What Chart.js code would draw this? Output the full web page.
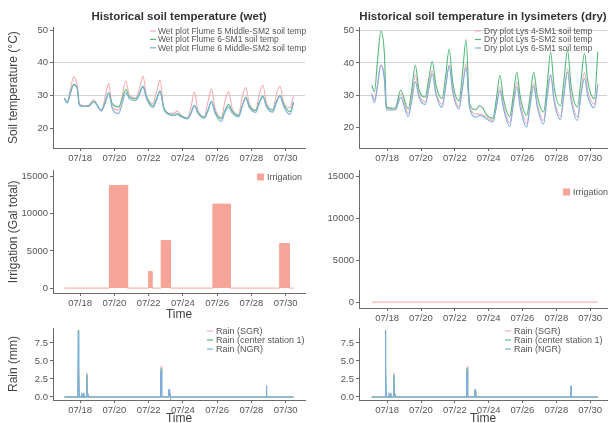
<!DOCTYPE html>
<html>
<head>
<meta charset="utf-8">
<script src="https://cdn.jsdelivr.net/npm/chart.js@4.4.1/dist/chart.umd.min.js"></script>
<style>
  html, body { margin:0; padding:0; background:#ffffff; }
  body { position:relative; width:611px; height:423px; overflow:hidden; }
  canvas { position:absolute; }
</style>
</head>
<body>
<canvas id="tl"></canvas>
<canvas id="tr"></canvas>
<canvas id="ml"></canvas>
<canvas id="mr"></canvas>
<canvas id="bl"></canvas>
<canvas id="br"></canvas>
<script>
// ---------------- data ----------------
// time axis: hours since 07/17 00:00
const tickHours  = [24, 72, 120, 168, 216, 264, 312];
const tickLabels = ['07/18','07/20','07/22','07/24','07/26','07/28','07/30'];

const tempHours = [2,6,10,15,20,23, 30,36,43,
  54,59,64,69, 78,83,88,93, 102,107,112,117, 126,131,136,141,
  150,155,160,165, 174,179,184,189, 198,203,208,213, 222,227,232,237,
  246,251,256,261, 270,275,280,285, 294,299,304,309, 318,323];

const wetFlume5Middle = [29.2,28.0,31.5,35.6,33.0,27.5, 26.8,27.0,28.7,
  25.2,29.5,33.7,26.5, 25.5,30.0,34.4,30.0, 29.2,32.0,35.9,30.0, 27.5,31.0,34.7,26.5,
  24.5,24.5,25.2,24.0, 23.0,26.0,31.0,25.5, 23.5,28.0,32.0,26.0, 23.2,28.5,31.1,26.0,
  24.2,29.5,32.4,27.5, 25.5,30.5,33.1,27.8, 25.6,30.5,32.8,28.0, 26.2,30.0];
const wetFlume6SM1 = [29.1,27.8,30.5,33.4,32.1,27.0, 26.7,26.8,28.2,
  25.5,28.0,30.8,27.5, 26.5,29.0,31.8,29.5, 29.0,30.5,32.9,29.5, 26.8,29.0,31.4,26.5,
  24.2,24.0,24.4,23.8, 23.0,24.5,27.0,24.8, 23.3,25.5,28.2,25.0, 22.8,25.5,27.2,25.2,
  23.8,26.8,29.4,26.8, 25.3,28.0,29.8,27.0, 25.5,28.2,30.0,27.3, 25.0,28.0];
const wetFlume6Middle = [29.0,27.7,30.3,33.2,32.0,26.9, 26.6,26.7,28.0,
  25.3,27.6,30.6,26.0, 24.5,27.5,30.8,29.0, 28.5,30.2,32.7,29.0, 26.3,28.5,31.2,26.0,
  24.0,23.8,24.2,23.5, 22.8,24.3,26.8,24.5, 23.0,25.2,28.0,24.5, 22.0,25.0,26.4,24.6,
  23.4,26.5,29.2,26.3, 24.8,27.6,29.6,26.5, 24.9,27.8,29.8,26.7, 24.2,27.8];

const dryLys4SM1 = [30.7,28.6,33.0,39.4,35.5,26.0, 25.8,26.0,30.5,
  24.5,30.0,36.3,30.5, 28.0,33.0,37.6,31.5, 27.2,33.0,39.4,32.0, 26.5,33.0,39.8,26.5,
  24.3,24.2,24.0,23.2, 22.3,27.0,32.6,27.0, 21.5,28.0,34.0,27.5, 21.3,28.0,33.8,27.5,
  22.3,30.0,36.5,29.0, 23.6,31.0,38.3,30.0, 23.3,31.0,37.0,31.0, 27.3,33.8];
const dryLys5SM2 = [33.2,31.1,40.0,49.7,43.0,26.5, 26.0,26.3,31.6,
  25.8,32.0,39.3,32.0, 29.5,35.0,40.5,33.5, 29.0,36.0,44.3,34.0, 28.3,37.0,47.2,27.3,
  25.6,26.8,26.0,24.0, 23.0,29.0,36.2,29.0, 23.5,30.0,37.2,29.5, 23.9,30.0,37.2,30.0,
  24.9,33.0,43.3,32.5, 26.8,35.0,44.0,33.0, 26.4,34.5,43.0,34.0, 29.0,43.5];
const dryLys6SM1 = [30.2,27.8,32.5,39.2,35.0,25.6, 25.5,25.6,29.3,
  23.5,28.5,34.3,29.5, 27.2,32.0,36.6,30.5, 26.3,32.5,39.0,31.0, 25.8,32.5,38.6,26.2,
  23.3,23.8,23.5,22.7, 21.8,26.5,31.6,26.0, 20.4,27.0,32.6,26.0, 20.2,27.0,32.8,26.5,
  21.2,29.5,36.3,28.0, 22.6,30.5,37.2,28.5, 22.3,30.0,35.3,29.5, 26.2,33.2];

// irrigation events (wet plot)
const irrStartHours = [65, 120, 137.5, 210, 303.5];
const irrEndHours   = [90.5, 124.5, 150.5, 234.5, 317];
const irrGallons    = [13800, 2250, 6400, 11300, 6000];
const irrSpanHours  = [2, 323];
// dry plot: no irrigation events
const dryIrrStartHours = [];
const dryIrrEndHours   = [];
const dryIrrGallons    = [];

// rain
const rainHours = [2,21,21.5,22,22.5,23, 26,26.5,27, 28.5,29,29.5, 33,33.5,34,35,36,
  136,136.5,137,137.5,138,138.5,139, 148,148.5,149,149.5,150,150.5, 284.5,285,285.5, 323];
const rainSGR     = [0,0,4.0,1.5,0.3,0, 0,0.4,0, 0,0.5,0, 0,3.4,0.5,0.3,0,
  0,3.6,1.0,4.3,0.5,0.1,0, 0,1.1,0.3,0.9,0.2,0, 0,0,0, 0];
const rainCenter1 = [0,0,9.3,3.5,0.3,0, 0,0.3,0, 0,0.5,0, 0,3.0,0.4,0.2,0,
  0,3.3,0.9,4.0,0.5,0.1,0, 0,1.0,0.3,0.8,0.2,0, 0,1.6,0, 0];
const rainNGR     = [0,0,9.0,4.2,0.3,0, 0,0.6,0, 0,0.6,0, 0,3.2,0.5,0.3,0,
  0,3.5,1.0,3.8,0.5,0.1,0, 0,1.1,0.3,0.9,0.2,0, 0,1.5,0, 0];

const tempTicks = [20, 30, 40, 50];
const tempTickLabels = ['20','30','40','50'];
const irrTicks = [0, 5000, 10000, 15000];
const irrTickLabels = ['0','5000','10000','15000'];
const rainTicks = [0, 2.5, 5, 7.5];
const rainTickLabels = ['0.0','2.5','5.0','7.5'];

// ---------------- styling ----------------
const FONT = "'Liberation Sans', Arial, Helvetica, sans-serif";
Chart.defaults.font.family = FONT;
const C_PINK = '#f2aeb2', C_GREEN = '#55b97c', C_BLUE = '#7eade4', C_BAR = '#f7a598';
const AXIS = '#6a6a6a', TICKTXT = '#555555', GRID = '#d2d2d2';

function pts(xs, ys) { return xs.map((x, i) => ({ x: x, y: ys[i] })); }
function irrPoints(starts, ends, vals, span) {
  const p = [{ x: span[0], y: 0 }];
  starts.forEach((s, i) => {
    p.push({ x: s, y: 0 }, { x: s, y: vals[i] }, { x: ends[i], y: vals[i] }, { x: ends[i], y: 0 });
  });
  p.push({ x: span[1], y: 0 });
  return p;
}

const insideLegend = {
  id: 'insideLegend',
  afterDraw(chart, args, o) {
    if (!o || !o.x) return;
    const ctx = chart.ctx;
    ctx.save();
    ctx.font = o.size + 'px ' + FONT;
    ctx.textBaseline = 'middle';
    ctx.textAlign = 'left';
    chart.data.datasets.forEach((ds, i) => {
      const y = o.y + i * o.rowH;
      if (o.box) {
        ctx.fillStyle = ds.backgroundColor;
        ctx.fillRect(o.x, y - o.keyW / 2, o.keyW, o.keyW);
      } else {
        ctx.strokeStyle = ds.borderColor;
        ctx.lineWidth = 1.2;
        ctx.beginPath(); ctx.moveTo(o.x, y); ctx.lineTo(o.x + o.keyW, y); ctx.stroke();
      }
      ctx.fillStyle = TICKTXT;
      ctx.fillText(ds.label, o.x + o.keyW + o.gap, y + 0.5);
    });
    ctx.restore();
  }
};

function xAxis(min, max, h, timePad) {
  return {
    type: 'linear', min: min, max: max,
    afterBuildTicks: s => { s.ticks = tickHours.map(v => ({ value: v })); },
    afterFit: s => { s.height = h; },
    ticks: { callback: (v, i) => tickLabels[i], font: { size: 9.5 }, color: TICKTXT,
             padding: 1.5, maxRotation: 0, autoSkip: false },
    grid: { drawOnChartArea: false, drawTicks: true, tickLength: 3, tickColor: AXIS },
    border: { display: true, color: AXIS, width: 1 },
    title: { display: timePad !== null, text: 'Time', font: { size: 12 }, color: '#444',
             padding: { top: 0, bottom: timePad === null ? 0 : timePad } }
  };
}
function yAxis(min, max, w, ticks, labels, gridVals, title) {
  return {
    type: 'linear', min: min, max: max,
    afterBuildTicks: s => { s.ticks = ticks.map(v => ({ value: v })); },
    afterFit: s => { s.width = w; },
    ticks: { callback: (v, i) => labels[i], font: { size: 9.5 }, color: TICKTXT, padding: 2 },
    grid: { drawTicks: true, tickLength: 3, tickColor: AXIS,
            color: c => (c.tick && gridVals.includes(c.tick.value)) ? GRID : 'rgba(0,0,0,0)' },
    border: { display: true, color: AXIS, width: 1 },
    title: { display: !!title, text: title || '', font: { size: 12 }, color: '#444', padding: { top: 6, bottom: 0 } }
  };
}

function make(id, box, datasets, opt) {
  const cv = document.getElementById(id);
  cv.width = box.w; cv.height = box.h;
  cv.style.left = box.x + 'px'; cv.style.top = box.y + 'px';
  cv.style.width = box.w + 'px'; cv.style.height = box.h + 'px';
  return new Chart(cv, {
    type: 'line',
    data: { datasets: datasets },
    options: {
      responsive: false, animation: false, devicePixelRatio: 1,
      layout: { padding: opt.padding },
      plugins: {
        legend: { display: false }, tooltip: { enabled: false },
        title: opt.title ? { display: true, text: opt.title, fullSize: false, align: 'center',
                 font: { size: 11.5, weight: 'bold' }, color: '#333', padding: { top: 10.4, bottom: 3.0 } }
               : { display: false },
        insideLegend: opt.legend
      },
      scales: { x: opt.x, y: opt.y }
    },
    plugins: [insideLegend]
  });
}

function lineDs(label, xs, ys, color, order, smooth) {
  return { label: label, data: pts(xs, ys), borderColor: color, backgroundColor: color,
           borderWidth: 1.1, pointRadius: 0, fill: false, order: order,
           cubicInterpolationMode: smooth ? 'monotone' : 'default', tension: 0 };
}

// ---- top-left: wet temps ----
make('tl', { x: 0, y: 0, w: 310, h: 163 }, [
  lineDs('Wet plot Flume 5 Middle-SM2 soil temp', tempHours, wetFlume5Middle, C_PINK, 3, true),
  lineDs('Wet plot Flume 6-SM1 soil temp', tempHours, wetFlume6SM1, C_GREEN, 2, true),
  lineDs('Wet plot Flume 6 Middle-SM2 soil temp', tempHours, wetFlume6Middle, C_BLUE, 1, true)
], {
  padding: { top: 0, left: 0, right: 5, bottom: 0 },
  title: 'Historical soil temperature (wet)',
  legend: { x: 150, y: 31, rowH: 8.4, keyW: 6, gap: 2, size: 8.5 },
  x: xAxis(-14, 339, 15, null),
  y: yAxis(13.9, 50.9, 53, tempTicks, tempTickLabels, [30, 40], 'Soil temperature (°C)')
});

// ---- top-right: dry temps ----
make('tr', { x: 305, y: 0, w: 306, h: 163 }, [
  lineDs('Dry plot Lys 4-SM1 soil temp', tempHours, dryLys4SM1, C_PINK, 3, true),
  lineDs('Dry plot Lys 5-SM2 soil temp', tempHours, dryLys5SM2, C_GREEN, 2, true),
  lineDs('Dry plot Lys 6-SM1 soil temp', tempHours, dryLys6SM1, C_BLUE, 1, true)
], {
  padding: { top: 0, left: 0, right: 4, bottom: 0 },
  title: 'Historical soil temperature in lysimeters (dry)',
  legend: { x: 170, y: 31, rowH: 8.5, keyW: 6, gap: 3, size: 8.5 },
  x: xAxis(-16, 336, 15, null),
  y: yAxis(13.8, 51, 54, tempTicks, tempTickLabels, [30, 40, 50], null)
});

// ---- middle-left: irrigation wet ----
make('ml', { x: 0, y: 163, w: 310, h: 157 }, [
  { label: 'Irrigation', data: irrPoints(irrStartHours, irrEndHours, irrGallons, irrSpanHours),
    borderColor: C_BAR, backgroundColor: C_BAR, borderWidth: 1, pointRadius: 0, fill: 'origin', tension: 0 }
], {
  padding: { top: 5, left: 0, right: 5, bottom: 0 },
  legend: { x: 257, y: 14, rowH: 9, keyW: 7, gap: 3, size: 9, box: true },
  x: xAxis(-14, 339, 27, -1.5),
  y: yAxis(-658, 15790, 53, irrTicks, irrTickLabels, [], 'Irrigation (Gal total)')
});

// ---- middle-right: irrigation dry ----
make('mr', { x: 305, y: 163, w: 306, h: 160 }, [
  { label: 'Irrigation', data: irrPoints(dryIrrStartHours, dryIrrEndHours, dryIrrGallons, irrSpanHours),
    borderColor: C_BAR, backgroundColor: C_BAR, borderWidth: 1, pointRadius: 0, fill: 'origin', tension: 0 }
], {
  padding: { top: 5, left: 0, right: 4, bottom: 0 },
  legend: { x: 258, y: 29, rowH: 9, keyW: 7, gap: 3, size: 9, box: true },
  x: xAxis(-16, 336, 15, null),
  y: yAxis(-703, 15703, 54, irrTicks, irrTickLabels, [], null)
});

// ---- bottom: rain ----
function rainSets() {
  return [
    lineDs('Rain (SGR)', rainHours, rainSGR, C_PINK, 3, false),
    lineDs('Rain (center station 1)', rainHours, rainCenter1, C_GREEN, 2, false),
    lineDs('Rain (NGR)', rainHours, rainNGR, C_BLUE, 1, false)
  ];
}
make('bl', { x: 0, y: 320, w: 310, h: 103 }, rainSets(), {
  padding: { top: 8, left: 0, right: 5, bottom: 0 },
  legend: { x: 207, y: 11, rowH: 9, keyW: 6, gap: 3, size: 9 },
  x: xAxis(-14, 339, 23, -2.5),
  y: yAxis(-0.42, 9.58, 53, rainTicks, rainTickLabels, [], 'Rain (mm)')
});
make('br', { x: 305, y: 320, w: 306, h: 103 }, rainSets(), {
  padding: { top: 8, left: 0, right: 4, bottom: 0 },
  legend: { x: 200, y: 11, rowH: 9, keyW: 6, gap: 3, size: 9 },
  x: xAxis(-16, 336, 23, -2.5),
  y: yAxis(-0.42, 9.58, 54, rainTicks, rainTickLabels, [], null)
});
</script>
</body>
</html>
